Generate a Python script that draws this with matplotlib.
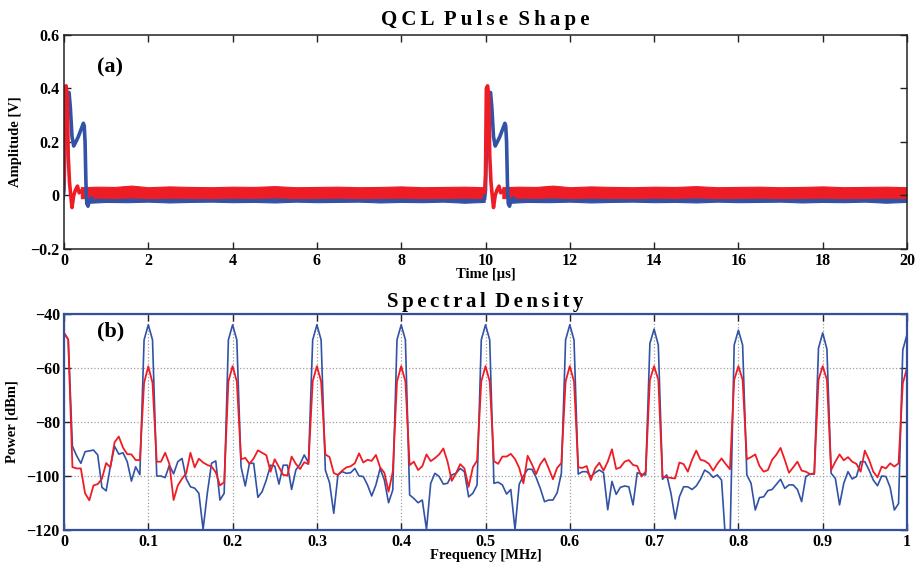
import numpy as np
import matplotlib
matplotlib.use("Agg")
import matplotlib.pyplot as plt

plt.rcParams['font.family'] = ['Liberation Serif', 'DejaVu Serif']
plt.rcParams['font.weight'] = 'bold'
plt.rcParams['axes.labelweight'] = 'bold'

# ---- (a) pulse shape data -------------------------------------------------
pulse_starts = [0.0, 10.0]          # us, one pulse per 10 us period

blue_pulse_t = [-0.02, 0.0, 0.04, 0.08, 0.12, 0.15, 0.19, 0.23, 0.28, 0.34,
                0.40, 0.46, 0.48, 0.50, 0.52, 0.54, 0.57, 0.60, 0.65]
blue_pulse_v = [-0.01, 0.02, 0.30, 0.37, 0.385, 0.33, 0.22, 0.185, 0.20, 0.22,
                0.245, 0.27, 0.26, 0.20, 0.05, -0.03, -0.04, -0.02, -0.01]

red_pulse_t = [-0.02, 0.0, 0.02, 0.05, 0.08, 0.10, 0.13, 0.16, 0.19, 0.23,
               0.27, 0.32, 0.36, 0.40]
red_pulse_v = [0.012, 0.08, 0.40, 0.41, 0.37, 0.15, 0.05, 0.0, -0.045, 0.0,
               0.02, 0.035, 0.01, 0.015]

# noise band of the baseline between pulses (upper / lower envelope)
band_t = [0.4, 0.8, 1.2, 1.6, 2.0, 2.5, 3.0, 3.5, 4.0, 4.5, 5.0, 5.5, 6.0,
          6.5, 7.0, 7.5, 8.0, 8.5, 9.0, 9.5, 9.98]
red_hi = [0.031, 0.033, 0.032, 0.037, 0.031, 0.034, 0.032, 0.031, 0.033, 0.032,
          0.035, 0.031, 0.032, 0.033, 0.031, 0.032, 0.034, 0.031, 0.032, 0.033, 0.031]
red_lo = [-0.010, -0.008, -0.009, -0.007, -0.010, -0.008, -0.009, -0.010, -0.008,
          -0.009, -0.007, -0.010, -0.009, -0.008, -0.010, -0.009, -0.008, -0.010,
          -0.009, -0.008, -0.009]
blue_band_t = [0.62, 1.0, 1.5, 2.0, 2.5, 3.0, 3.5, 4.0, 4.5, 5.0, 5.5, 6.0,
               6.5, 7.0, 7.5, 8.0, 8.5, 9.0, 9.5, 9.98]
blue_hi = [0.0, 0.001, 0.0, 0.002, 0.0, 0.001, 0.0, 0.001, 0.002, 0.0,
           0.001, 0.0, 0.001, 0.0, 0.002, 0.0, 0.001, 0.0, 0.001, 0.0]
blue_lo = [-0.027, -0.024, -0.025, -0.023, -0.026, -0.024, -0.023, -0.025, -0.024,
           -0.026, -0.023, -0.025, -0.024, -0.023, -0.026, -0.024, -0.025, -0.023,
           -0.027, -0.024]

# ---- (b) spectral density data --------------------------------------------
freq = np.linspace(0, 1, 201)   # MHz, 5 kHz bins

blue_db = [
    -47, -49.5, -89, -92.5, -95.3, -91, -90.7, -90.4, -92.2, -104.2,
    -105.5, -96.5, -89, -91.9, -91.4, -94.7, -101.9, -96.6, -99.5, -49.6, -44,
    -49.6, -100, -100, -100.6, -96, -99.2, -94.7, -93.5, -101, -104,
    -104.5, -106.4, -119.8, -106.4, -95.3, -94.4, -108.9, -106.4, -49.6, -44,
    -49.6, -96.5, -103.7, -95.3, -95.3, -107.9, -105.8, -101.5, -96, -96.3,
    -103, -96, -96, -105, -97.8, -95.6, -92.2, -95.1, -49.6, -44,
    -49.6, -97.8, -102.5, -113.8, -99.5, -98.4, -99, -98.8, -97.2, -100,
    -100.2, -103.3, -107.4, -103.3, -97.2, -101.5, -109.9, -105.2, -49.6, -44,
    -49.6, -107, -108.3, -109.9, -108.9, -119.8, -102.7, -99, -100.2, -103,
    -102.7, -99.6, -99, -97.2, -98.4, -107.7, -106.4, -103.3, -49.6, -44,
    -49.6, -102.7, -102.3, -103.3, -106.7, -105, -119.8, -103, -100, -97.5,
    -97.5, -100.5, -104.6, -109.5, -108.9, -108.9, -106.2, -99, -49.6, -44,
    -49.6, -99.3, -98.4, -98.4, -100.2, -98.8, -97.8, -98.8, -112.5, -102,
    -106.8, -104.2, -103.7, -104, -110.7, -98.8, -99.3, -99.6, -50.9, -45.6,
    -51.5, -101.2, -99.6, -106.4, -115.9, -107.7, -104, -104, -105, -103.7,
    -101.2, -97.8, -98.8, -100.5, -99.6, -101.5, -125, -125, -51.5, -46,
    -51.5, -99.6, -102.7, -112.6, -108, -107.7, -105.4, -105, -103.1, -101.2,
    -104.6, -103.3, -103.3, -105, -109.5, -100.2, -99.3, -99.3, -52.7, -47,
    -53, -99, -100.9, -110.7, -102.7, -98.4, -101.1, -100.2, -94.7, -94.7,
    -97.8, -101.5, -103.6, -100, -100.2, -104.2, -112.6, -110.2, -53.3, -47.6,
]

red_db = [
    -47, -49.4, -96.7, -97.2, -97.2, -106.4, -109, -103.5, -103, -101,
    -95.2, -96.8, -87.5, -85.4, -89.5, -91.9, -92, -94.1, -94.1, -65.5, -59.4,
    -65.5, -94.7, -94.7, -91.4, -95.5, -108.9, -103.5, -101, -99, -91.4,
    -96.8, -93.6, -95, -95.9, -96.5, -98.6, -103.5, -102.3, -65, -59.3,
    -65, -93.8, -93.3, -95.5, -93.5, -90.5, -91.4, -92.3, -98.4, -93.8,
    -96.7, -99.6, -99.8, -92.8, -95.5, -97.4, -94.9, -95.6, -65, -59.3,
    -65, -92, -93, -98.9, -99.6, -98, -96.8, -96.4, -95.3, -91.6,
    -95, -94, -94.4, -92.2, -96.8, -98.8, -105.8, -98.4, -65, -59.3,
    -65, -96, -94.7, -97.8, -96.4, -92, -94.5, -93.4, -92, -89.8,
    -94.7, -101.8, -99, -95.6, -97.2, -104, -96.8, -94.3, -65, -59.3,
    -65, -94.5, -95.5, -92.8, -92.8, -91.8, -93.7, -97, -102.7, -92.5,
    -95.6, -99.3, -95.6, -93.5, -97.2, -101.2, -97, -95.2, -65, -59.3,
    -65, -96.8, -97, -96.3, -101.5, -97.2, -95.1, -98, -94.7, -90.1,
    -97.4, -96.8, -94.7, -94.1, -95.9, -96.3, -100.2, -98.4, -64.4, -59.3,
    -64.4, -100.2, -100.5, -100.7, -100.9, -95, -95.6, -98.4, -94, -90.6,
    -94, -94.4, -95.5, -98, -95.5, -93.5, -95.6, -97.5, -64.4, -59.3,
    -64.4, -93.8, -93, -92, -96.3, -98.4, -97.8, -94, -92.1, -89.6,
    -94, -98.8, -96.8, -94.7, -98, -98.4, -99.3, -99, -64.4, -59.3,
    -64.4, -97.8, -94.7, -92, -94.2, -93, -94.7, -95.5, -98.4, -90.6,
    -94, -98.4, -100.5, -96.5, -97.2, -95.3, -96.5, -95.3, -65.7, -60,
]

BLUE = '#3152a5'
RED = '#ee1d25'

fig = plt.figure(figsize=(9.16, 5.67), dpi=100)
ax1 = fig.add_axes([64/916, 1-249/567, 843/916, 214/567])
ax2 = fig.add_axes([64/916, 1-530/567, 843/916, 216/567])

# ---- top panel ----
for t0 in pulse_starts:
    bt = np.array(blue_band_t) + t0
    ax1.fill_between(bt, blue_lo, blue_hi, color=BLUE, lw=0.8)
    ax1.plot(np.array(blue_pulse_t) + t0, blue_pulse_v, color=BLUE, lw=2.6)
for t0 in pulse_starts:
    rt = np.array(band_t) + t0
    ax1.fill_between(rt, red_lo, red_hi, color=RED, lw=0.8)
    ax1.plot(np.array(red_pulse_t) + t0, red_pulse_v, color=RED, lw=2.6)

ax1.set_xlim(0, 20)
ax1.set_ylim(-0.2, 0.6)
ax1.set_xticks(range(0, 21, 2))
ax1.set_yticks([-0.2, 0, 0.2, 0.4, 0.6])
ax1.set_yticklabels(['\u22120.2', '0', '0.2', '0.4', '0.6'])
ax1.set_xlabel('Time [\u00b5s]', fontsize=10.5, fontweight='bold', labelpad=-1)
ax1.set_ylabel('Amplitude [V]', fontsize=10.5, fontweight='bold', labelpad=6)
ax1.set_title('Q\u2009C\u2009L  P\u2009u\u2009l\u2009s\u2009e  S\u2009h\u2009a\u2009p\u2009e',
              fontsize=15, fontweight='bold', pad=7)
ax1.text(0.039, 0.85, '(a)', transform=ax1.transAxes, fontsize=16,
         fontweight='bold', va='center')
for s in ax1.spines.values():
    s.set_color('#222222')
    s.set_linewidth(1.1)

# ---- bottom panel ----
ax2.plot(freq, blue_db, color=BLUE, lw=1.2)
ax2.plot(freq, red_db, color=RED, lw=1.3)
ax2.set_xlim(0, 1)
ax2.set_ylim(-120, -40)
ax2.set_xticks(np.linspace(0, 1, 11))
ax2.set_xticklabels(['0', '0.1', '0.2', '0.3', '0.4', '0.5', '0.6', '0.7',
                     '0.8', '0.9', '1'])
ax2.set_yticks([-120, -100, -80, -60, -40])
ax2.set_yticklabels(['\u2212120', '\u2212100', '\u221280', '\u221260', '\u221240'])
ax2.grid(True, linestyle=':', color='#a0a0a0', lw=0.9)
ax2.set_xlabel('Frequency [MHz]', fontsize=10.5, fontweight='bold', labelpad=-1)
ax2.set_ylabel('Power [dBm]', fontsize=10.5, fontweight='bold', labelpad=6)
hs = '\u200a\u200a'
ax2.set_title(hs.join('Spectral') + '\u2009 ' + hs.join('Density'),
              fontsize=15, fontweight='bold', pad=5)
ax2.text(0.039, 0.92, '(b)', transform=ax2.transAxes, fontsize=16,
         fontweight='bold', va='center')
for s in ax2.spines.values():
    s.set_color('#34509c')
    s.set_linewidth(1.6)

for ax in (ax1, ax2):
    ax.tick_params(direction='in', top=True, right=True, length=5,
                   width=1, color='#222222', labelsize=11.5, pad=3)

fig.savefig('out.png', dpi=100)
